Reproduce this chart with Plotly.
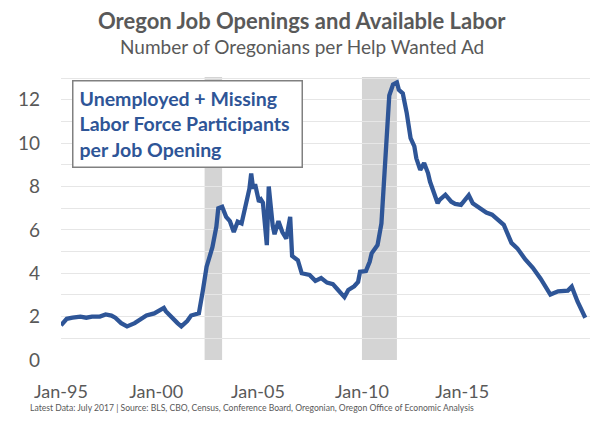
import plotly.graph_objects as go

# Data (Oregonians per help-wanted ad)
dates = [
    "1995-01", "1995-04", "1995-07", "1995-11", "1996-02", "1996-05", "1996-09", "1996-12",
    "1997-03", "1997-05", "1997-08", "1997-11", "1998-03", "1998-06", "1998-09", "1999-01",
    "1999-03", "1999-06", "1999-07", "1999-10", "2000-01", "2000-03", "2000-06", "2000-08",
    "2000-12", "2001-02", "2001-04", "2001-07", "2001-09", "2001-10", "2001-12", "2002-02",
    "2002-04", "2002-06", "2002-08", "2002-10", "2002-12", "2003-02", "2003-03", "2003-04",
    "2003-05", "2003-07", "2003-08", "2003-09", "2003-11", "2003-12", "2004-02", "2004-03",
    "2004-05", "2004-07", "2004-09", "2004-11", "2004-12", "2005-03", "2005-05", "2005-09",
    "2005-12", "2006-03", "2006-06", "2006-09", "2006-11", "2007-03", "2007-05", "2007-08",
    "2007-10", "2007-11", "2008-02", "2008-04", "2008-05", "2008-08", "2008-10", "2008-11",
    "2009-01", "2009-02", "2009-04", "2009-06", "2009-07", "2009-09", "2009-10", "2009-11",
    "2010-01", "2010-03", "2010-04", "2010-06", "2010-08", "2010-10", "2010-11", "2011-01",
    "2011-03", "2011-04", "2011-07", "2011-10", "2011-12", "2012-03", "2012-05", "2012-07",
    "2012-09", "2012-12", "2013-04", "2013-07", "2013-10", "2014-01", "2014-05", "2014-08",
    "2014-12", "2015-04", "2015-08", "2016-01", "2016-05", "2016-10", "2016-12", "2017-03",
    "2017-07",
]
values = [
    1.60, 1.90, 1.95, 2.00, 1.95, 2.00, 2.00, 2.10,
    2.05, 1.95, 1.70, 1.55, 1.70, 1.90, 2.05, 2.15,
    2.25, 2.40, 2.25, 1.95, 1.70, 1.55, 1.80, 2.05,
    2.15, 3.20, 4.30, 5.20, 6.15, 7.00, 7.07, 6.60,
    6.40, 5.90, 6.38, 6.30, 7.20, 7.90, 8.60, 7.90,
    8.10, 7.30, 7.40, 7.25, 5.30, 8.00, 6.20, 5.80,
    6.40, 5.90, 5.60, 6.60, 4.80, 4.60, 4.00, 3.92,
    3.65, 3.78, 3.57, 3.50, 3.30, 2.90, 3.23, 3.40,
    3.60, 4.07, 4.10, 4.54, 4.92, 5.30, 6.30, 8.00,
    10.90, 12.20, 12.70, 12.80, 12.46, 12.30, 11.85, 11.40,
    10.23, 9.85, 9.30, 8.77, 9.08, 8.62, 8.23, 7.77,
    7.23, 7.38, 7.62, 7.30, 7.20, 7.15, 7.38, 7.60,
    7.23, 7.07, 6.80, 6.70, 6.46, 6.23, 5.40, 5.15,
    4.65, 4.25, 3.75, 3.02, 3.17, 3.20, 3.38, 2.70,
    1.95,
]

recession_starts = ["2001-03-01", "2007-12-01"]
recession_ends = ["2001-11-30", "2009-06-01"]

tick_positions = ["1995-01-01", "1999-02-01", "2003-06-15", "2007-12-01", "2012-03-20"]
tick_labels = ["Jan-95", "Jan-00", "Jan-05", "Jan-10", "Jan-15"]

y_ticks = [0, 2, 4, 6, 8, 10, 12]

title = "Oregon Job Openings and Available Labor"
subtitle = "Number of Oregonians per Help Wanted Ad"
box_text = "Unemployed + Missing<br>Labor Force Participants<br>per Job Opening"
footer = ("Latest Data: July 2017 | Source: BLS, CBO, Census, Conference Board, "
          "Oregonian, Oregon Office of Economic Analysis")

BLUE = "#2E5597"
GRAY = "#595959"
FONT = "Lato"

fig = go.Figure()
fig.add_trace(go.Scatter(
    x=dates, y=values, mode="lines",
    line=dict(color=BLUE, width=4.3),
    hoverinfo="x+y", showlegend=False,
))

for s, e in zip(recession_starts, recession_ends):
    fig.add_shape(type="rect", xref="x", yref="paper", x0=s, x1=e, y0=0, y1=1,
                  fillcolor="#d4d4d4", line=dict(width=0), layer="below")

fig.add_annotation(text="<b>" + title + "</b>", xref="paper", yref="paper",
                   x=0.4556, y=1 + 56 / 283, xanchor="center", yanchor="middle",
                   showarrow=False, font=dict(family=FONT, size=22, color=GRAY))
fig.add_annotation(text=subtitle, xref="paper", yref="paper",
                   x=0.4556, y=1 + 30 / 283, xanchor="center", yanchor="middle",
                   showarrow=False, font=dict(family=FONT, size=19, color=GRAY))
fig.add_annotation(text="<b>" + box_text + "</b>", xref="paper", yref="paper",
                   x=0.239, y=0.834, xanchor="center", yanchor="middle", align="left",
                   width=216, height=73,
                   showarrow=False, bgcolor="white", bordercolor="#808080",
                   borderwidth=1.5, borderpad=6,
                   font=dict(family=FONT, size=19.5, color=BLUE))
fig.add_annotation(text=footer, xref="paper", yref="paper",
                   x=-0.0624, y=-48 / 283, xanchor="left", yanchor="middle",
                   showarrow=False, font=dict(family=FONT, size=8.6, color=GRAY))

fig.update_layout(
    width=592, height=428,
    margin=dict(l=61, r=2, t=77, b=68),
    paper_bgcolor="white", plot_bgcolor="white",
    font=dict(family=FONT, color=GRAY),
    xaxis=dict(
        type="date", range=["1995-01-01", "2017-09-13"],
        tickvals=tick_positions, ticktext=tick_labels,
        showgrid=False, zeroline=False, showline=False, ticks="",
        tickfont=dict(family=FONT, size=18, color=GRAY),
        ticklabelstandoff=19, automargin=False,
    ),
    yaxis=dict(
        range=[0, 13.05], tickvals=y_ticks,
        showgrid=True, gridcolor="#e6e6e6", gridwidth=1,
        minor=dict(dtick=1, showgrid=True, gridcolor="#e6e6e6", gridwidth=1),
        zeroline=False, showline=False, ticks="",
        tickfont=dict(family=FONT, size=19, color=GRAY),
        ticklabelstandoff=20, automargin=False,
    ),
)

fig.write_html("out.html", config={"displayModeBar": False},
               post_script="document.body.style.margin='0';")
